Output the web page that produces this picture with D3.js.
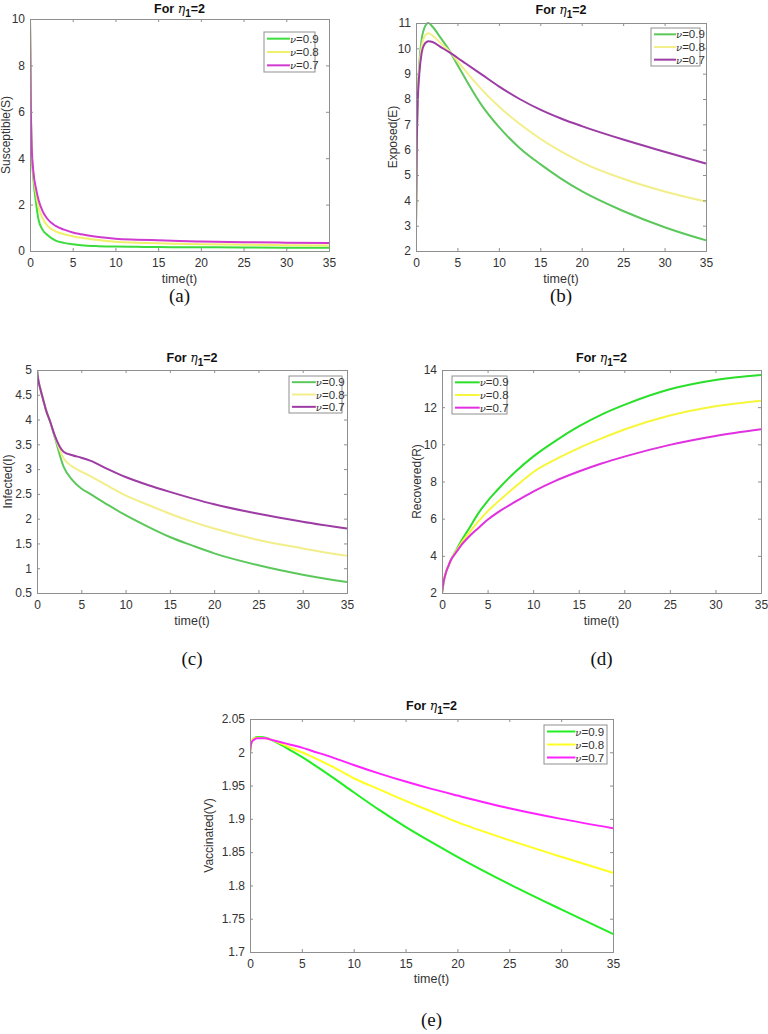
<!DOCTYPE html>
<html><head><meta charset="utf-8">
<script src="https://cdn.jsdelivr.net/npm/d3@7"></script>
<style>body{margin:0;background:#fff}svg{display:block}</style>
</head><body>
<svg id="c" width="768" height="1034"></svg>
<script>
const time = [0,0.1,0.2,0.4,0.7,1,1.5,2,3,4,5,6,8,10,12.5,15,17.5,20,25,30,35];
const seriesNames = ["0.9","0.8","0.7"];
const xTicks = [0,5,10,15,20,25,30,35];

const S09 = [10,6.0,4.3,3.1,2.1,1.35,0.9,0.7,0.45,0.35,0.29,0.25,0.21,0.19,0.18,0.17,0.165,0.16,0.15,0.145,0.14];
const S08 = [10,6.1,4.4,3.3,2.5,1.9,1.4,1.1,0.85,0.72,0.64,0.57,0.47,0.4,0.36,0.33,0.31,0.29,0.27,0.25,0.24];
const S07 = [10,6.2,4.5,3.4,2.7,2.2,1.7,1.4,1.08,0.92,0.8,0.72,0.6,0.53,0.49,0.46,0.43,0.41,0.38,0.36,0.34];
const sTicks = [0,2,4,6,8,10];

const E09 = [3,6.5,8.0,9.4,10.4,10.8,11.0,10.85,10.4,9.93,9.35,8.78,7.72,6.9,6.07,5.43,4.86,4.36,3.58,2.94,2.42];
const E08 = [3,6.4,7.9,9.2,10.1,10.45,10.6,10.5,10.2,9.9,9.5,9.1,8.35,7.7,7.02,6.43,5.93,5.5,4.85,4.35,3.95];
const E07 = [3,6.3,7.8,9.0,9.85,10.15,10.28,10.25,10.05,9.85,9.63,9.4,8.95,8.5,8.0,7.58,7.23,6.93,6.4,5.92,5.45];
const eTicks = [2,3,4,5,6,7,8,9,10,11];

const I09 = [5,4.85,4.75,4.6,4.4,4.2,3.95,3.65,3.05,2.78,2.61,2.5,2.28,2.07,1.84,1.63,1.46,1.30,1.06,0.87,0.72];
const I08 = [5,4.85,4.75,4.6,4.4,4.2,3.95,3.67,3.22,3.05,2.95,2.86,2.66,2.47,2.28,2.1,1.94,1.80,1.57,1.40,1.25];
const I07 = [5,4.85,4.75,4.6,4.4,4.2,3.95,3.68,3.35,3.28,3.23,3.17,3.0,2.84,2.68,2.54,2.41,2.29,2.10,1.94,1.80];
const iTicks = [0.5,1,1.5,2,2.5,3,3.5,4,4.5,5];

const R09 = [2,2.35,2.65,3.05,3.45,3.8,4.25,4.7,5.5,6.3,6.95,7.5,8.5,9.34,10.2,10.96,11.6,12.12,12.96,13.46,13.73];
const R08 = [2,2.35,2.65,3.05,3.45,3.8,4.2,4.6,5.25,5.85,6.39,6.85,7.7,8.5,9.2,9.8,10.32,10.8,11.55,12.05,12.35];
const R07 = [2,2.35,2.65,3.05,3.45,3.8,4.15,4.5,5.05,5.5,5.94,6.3,6.9,7.46,8.05,8.54,8.97,9.34,9.97,10.45,10.81];
const rTicks = [2,4,6,8,10,12,14];

const V09 = [2.0,2.012,2.017,2.021,2.023,2.023,2.022,2.019,2.011,2.002,1.993,1.983,1.962,1.94,1.913,1.888,1.865,1.843,1.802,1.764,1.727];
const V08 = [2.0,2.012,2.017,2.021,2.022,2.022,2.021,2.019,2.013,2.006,2.0,1.993,1.978,1.961,1.944,1.927,1.911,1.895,1.868,1.843,1.819];
const V07 = [2.0,2.012,2.016,2.019,2.021,2.021,2.021,2.019,2.015,2.011,2.007,2.002,1.992,1.981,1.968,1.956,1.945,1.935,1.916,1.900,1.886];
const vTicks = [1.7,1.75,1.8,1.85,1.9,1.95,2,2.05];

const svg = d3.select("#c");
svg.append("rect").attr("width",768).attr("height",1034).attr("fill","#fff");

const panels = [
  {l:30,r:329,t:19,b:251, yd:[0,10], yt:sTicks, ylab:"Susceptible(S)", ylx:6, data:[S09,S08,S07],
   col:["#3ddc3d","#f0f06a","#d03ad0"], leg:{x:264,y:32,w:51,h:40}, tag:"(a)", tagY:302, titleY:13, xlabY:283},
  {l:416,r:706,t:23,b:251, yd:[2,11], yt:eTicks, ylab:"Exposed(E)", ylx:393, data:[E09,E08,E07],
   col:["#5cc85c","#f2ee8a","#9c3ca4"], leg:{x:651,y:28,w:49,h:38}, tag:"(b)", tagY:302, titleY:14, xlabY:283},
  {l:37,r:347,t:370,b:593, yd:[0.5,5], yt:iTicks, ylab:"Infected(I)", ylx:8, data:[I09,I08,I07],
   col:["#5cc85c","#f2ee8a","#9c3ca4"], leg:{x:289,y:376,w:53,h:37}, tag:"(c)", tagY:665, titleY:362, xlabY:625},
  {l:442,r:761,t:370,b:593, yd:[2,14], yt:rTicks, ylab:"Recovered(R)", ylx:417, data:[R09,R08,R07],
   col:["#2adf2a","#f6f63a","#e030e0"], leg:{x:452,y:376,w:55,h:38}, tag:"(d)", tagY:665, titleY:362, xlabY:625},
  {l:250,r:613,t:719,b:952, yd:[1.7,2.05], yt:vTicks, ylab:"Vaccinated(V)", ylx:209, data:[V09,V08,V07],
   col:["#22ee22","#ffff22","#ff22ff"], leg:{x:544,y:725,w:63,h:39}, tag:"(e)", tagY:1026, titleY:710, xlabY:983}
];

const axisCol = "#8f8f8f", textCol = "#333";
const sans = "Arial, 'Liberation Sans', sans-serif";

panels.forEach(p => {
  const x = d3.scaleLinear().domain([0,35]).range([p.l,p.r]);
  const y = d3.scaleLinear().domain(p.yd).range([p.b,p.t]);
  const g = svg.append("g");

  const line = d3.line().x((d,i)=>x(time[i])).y(d=>y(d)).curve(d3.curveMonotoneX);
  const clipId = "clip"+p.tag.replace(/\W/g,"");
  svg.append("clipPath").attr("id",clipId).append("rect")
    .attr("x",p.l).attr("y",p.t-1).attr("width",p.r-p.l).attr("height",p.b-p.t+1);
  p.data.forEach((arr,k)=>{
    g.append("path").datum(arr).attr("d",line).attr("fill","none")
      .attr("stroke",p.col[k]).attr("stroke-width",2).attr("clip-path",`url(#${clipId})`);
  });

  const fontAttrs = sel => sel.attr("font-family",sans).attr("font-size",12).attr("fill",textCol);
  const xb = g.append("g").attr("transform",`translate(0,${p.b})`)
    .call(d3.axisBottom(x).tickValues(xTicks).tickSize(-3).tickPadding(7).tickFormat(d3.format("d")));
  const xt = g.append("g").attr("transform",`translate(0,${p.t})`)
    .call(d3.axisTop(x).tickValues(xTicks).tickSize(-3).tickFormat(""));
  const yl = g.append("g").attr("transform",`translate(${p.l},0)`)
    .call(d3.axisLeft(y).tickValues(p.yt).tickSize(-3).tickPadding(5).tickFormat(d=>String(+d.toFixed(2))));
  const yr = g.append("g").attr("transform",`translate(${p.r},0)`)
    .call(d3.axisRight(y).tickValues(p.yt).tickSize(-3).tickFormat(""));
  [xb,xt,yl,yr].forEach(a=>{
    a.select(".domain").attr("stroke",axisCol).attr("stroke-width",1);
    a.selectAll(".tick line").attr("stroke",axisCol);
    a.selectAll("text").call(fontAttrs);
  });

  const cx = (p.l+p.r)/2;
  const t = g.append("text").attr("x",cx).attr("y",p.titleY).attr("text-anchor","middle")
    .attr("font-family",sans).attr("font-size",12.5).attr("font-weight","bold").attr("fill","#111");
  t.append("tspan").text("For ");
  t.append("tspan").attr("font-style","italic").attr("font-weight","normal").attr("font-family","'DejaVu Serif', serif").text("η");
  t.append("tspan").attr("dy",4).attr("font-size",10).text("1");
  t.append("tspan").attr("dy",-4).text("=2");

  g.append("text").attr("x",cx).attr("y",p.xlabY).attr("text-anchor","middle")
    .attr("font-family",sans).attr("font-size",12.5).attr("fill",textCol).text("time(t)");
  g.append("text").attr("transform",`translate(${p.ylx},${(p.t+p.b)/2}) rotate(-90)`)
    .attr("text-anchor","middle").attr("dominant-baseline","central")
    .attr("font-family",sans).attr("font-size",12).attr("fill",textCol).text(p.ylab);

  const L = p.leg;
  g.append("rect").attr("x",L.x).attr("y",L.y).attr("width",L.w).attr("height",L.h)
    .attr("fill","#fff").attr("stroke",axisCol).attr("stroke-width",1);
  const rowH = L.h/3;
  const lineLen = L.w*0.45;
  seriesNames.forEach((nm,k)=>{
    const yy = L.y + rowH*(k+0.5);
    g.append("line").attr("x1",L.x+3).attr("x2",L.x+3+lineLen).attr("y1",yy).attr("y2",yy)
      .attr("stroke",p.col[k]).attr("stroke-width",2);
    const tx = g.append("text").attr("x",L.x+3+lineLen).attr("y",yy).attr("dominant-baseline","central")
      .attr("font-family",sans).attr("font-size",11.5).attr("fill",textCol);
    tx.append("tspan").attr("font-family","'DejaVu Serif', serif").attr("font-style","italic").attr("font-size",10).text("ν");
    tx.append("tspan").text("=" + nm);
  });

  g.append("text").attr("x",cx).attr("y",p.tagY).attr("text-anchor","middle")
    .attr("font-family","'Liberation Serif', 'Times New Roman', serif").attr("font-size",19).attr("fill","#111").text(p.tag);
});
</script>
</body></html>
